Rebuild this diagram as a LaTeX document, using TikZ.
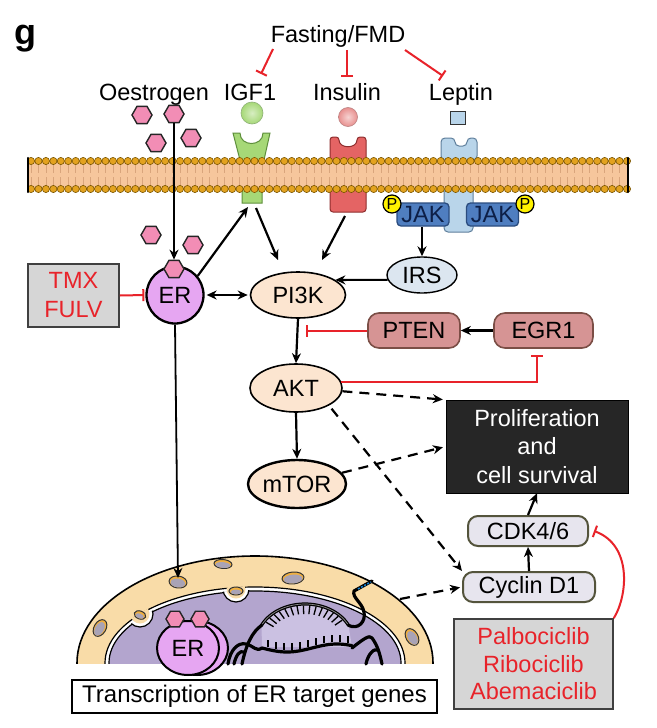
\documentclass[tikz,border=0pt]{standalone}
\usepackage{fontspec}
\setmainfont{Liberation Sans}
\usetikzlibrary{arrows.meta,shapes.geometric}
\definecolor{inhred}{HTML}{E8232A}
\definecolor{hexpink}{HTML}{F28DB5}
\definecolor{igfgreen}{HTML}{A6D877}
\definecolor{igfdark}{HTML}{5E8F3C}
\definecolor{insred}{HTML}{E46464}
\definecolor{insdark}{HTML}{8E2E2E}
\definecolor{insball}{HTML}{E8908F}
\definecolor{lepblue}{HTML}{B9D5EA}
\definecolor{lepdark}{HTML}{5F7F9C}
\definecolor{jakblue}{HTML}{4F7EC0}
\definecolor{jakdark}{HTML}{2B4C7E}
\definecolor{jaktext}{HTML}{0D1F47}
\definecolor{memfill}{HTML}{F6C69C}
\definecolor{memtail}{HTML}{D9A57C}
\definecolor{memhead}{HTML}{E3A21F}
\definecolor{memheaddark}{HTML}{7A5500}
\definecolor{erviolet}{HTML}{E6A6F2}
\definecolor{peach}{HTML}{FCE5D0}
\definecolor{irsblue}{HTML}{DCE6F0}
\definecolor{ptenrose}{HTML}{D69494}
\definecolor{ptendark}{HTML}{7B4E46}
\definecolor{cdkfill}{HTML}{E7E5EE}
\definecolor{cdkdark}{HTML}{54543C}
\definecolor{boxgrey}{HTML}{D6D6D6}
\definecolor{prolifblack}{HTML}{262626}
\definecolor{nucband}{HTML}{F9DCA8}
\definecolor{nucpurple}{HTML}{B3A5CE}
\definecolor{nuclight}{HTML}{CBC1E2}
\definecolor{poregrey}{HTML}{A9A3B6}
\definecolor{poreorange}{HTML}{F0B040}
\begin{document}
\begin{tikzpicture}[x=1pt,y=-1pt,
  font=\fontsize{23.5}{28}\selectfont,
  arr/.style={-{Stealth[length=10pt,width=9pt]}, line width=2.2pt},
  thinarr/.style={-{Stealth[length=10pt,width=9pt]}, line width=1.8pt},
  dbl/.style={{Stealth[length=10pt,width=9pt]}-{Stealth[length=10pt,width=9pt]}, line width=2.2pt},
  dsh/.style={arr, dash pattern=on 10pt off 7pt},
  inh/.style={-{Bar[width=12pt]}, line width=2pt, draw=inhred},
  hexa/.style={regular polygon, regular polygon sides=6, minimum size=20pt, inner sep=0pt, draw=black!85, line width=1.4pt, fill=hexpink},
  oval/.style={ellipse, draw=black, line width=1.6pt, fill=peach, inner sep=0pt},
  pill/.style={rectangle, rounded corners=11pt, draw=ptendark, line width=1.6pt, fill=ptenrose, inner sep=0pt, minimum height=35pt},
  cellbox/.style={rectangle, rounded corners=10pt, draw=cdkdark, line width=2pt, fill=cdkfill, inner sep=0pt, minimum height=30pt},
  drug/.style={rectangle, draw=black!75, line width=1.6pt, fill=boxgrey, text=inhred, align=center, inner sep=0pt},
  jak/.style={rectangle, rounded corners=4pt, draw=jakdark, line width=1.3pt, fill=jakblue, text=jaktext, inner sep=0pt, minimum width=52pt, minimum height=23pt},
  pc/.style={circle, draw=black, line width=1.2pt, fill=yellow, inner sep=0pt, minimum size=18pt, font=\fontsize{16}{16}\selectfont},
  lbl/.style={anchor=base, inner sep=0pt},
  dna/.style={line width=3.2pt, draw=black, line cap=round, line join=round},
  tick/.style={line width=1.3pt, draw=black},
  pore/.style={line width=1pt, draw=black!80, fill=poregrey},
]
\useasboundingbox (0,0) rectangle (656,728);
\fill[white] (0,0) rectangle (656,728);

% ---------- title and labels
\node[anchor=base west, inner sep=0pt, font=\fontsize{36}{36}\selectfont\bfseries] (g) at (14,44) {g};
\node[lbl] (fast) at (338,42) {Fasting/FMD};
\node[lbl] (oes) at (154,100) {Oestrogen};
\node[lbl] (igf) at (250,100) {IGF1};
\node[lbl] (ins) at (347,100) {Insulin};
\node[lbl] (lep) at (461,100) {Leptin};

\coordinate (f1a) at (273,49); \coordinate (f1b) at (261,74);
\coordinate (f2a) at (347,50); \coordinate (f2b) at (347,77);
\coordinate (f3a) at (405,50); \coordinate (f3b) at (443,76);
\draw[inh] (f1a) -- (f1b);
\draw[inh] (f2a) -- (f2b);
\draw[inh] (f3a) -- (f3b);

% ---------- ligands
\node[circle, inner sep=0pt, minimum size=22pt, draw=igfdark!70, line width=0.6pt, inner color=igfgreen!45!white, outer color=igfgreen] (ballI) at (252,113) {};
\node[circle, inner sep=0pt, minimum size=19pt, draw=insdark!60, line width=0.6pt, inner color=insball!40!white, outer color=insball] (ballN) at (348,117) {};
\node[rectangle, inner sep=0pt, minimum width=15pt, minimum height=13pt, draw=black!80, line width=1.2pt, fill=lepblue] (lsq) at (458,118) {};

% ---------- receptors
\draw[draw=igfdark, line width=1pt, fill=igfgreen] (233,133) -- (240,160) -- (242,175) -- (242,203) -- (262,203) -- (262,175) -- (264,160) -- (270,133) -- (263,133) .. controls (263,147) and (240,147) .. (240,133) -- cycle;
\draw[draw=insdark, line width=1pt, fill=insred, rounded corners=3pt] (330,137) -- (330,212) -- (366,212) -- (366,137) -- (357,137) .. controls (357,149) and (339,149) .. (339,137) -- cycle;
\draw[draw=lepdark, line width=1pt, fill=lepblue, rounded corners=4pt] (441,138) -- (441,160) -- (444,160) -- (444,232) -- (473,232) -- (473,160) -- (477,160) -- (477,138) -- (467,138) -- (467,146) -- (455,146) -- (455,138) -- cycle;

% ---------- membrane
\fill[memfill] (28,161) rectangle (628,189);
\foreach \i in {0,...,80} {
  \pgfmathsetmacro{\xx}{31+7.45*\i}
  \draw[memtail, line width=0.8pt] (\xx,164.5) -- (\xx,173) (\xx,177) -- (\xx,185.5);
}
\foreach \i in {0,...,80} {
  \pgfmathsetmacro{\xx}{31+7.45*\i}
  \draw[draw=memheaddark, fill=memhead, line width=0.6pt] (\xx,161) circle (3.6) (\xx,189) circle (3.6);
}
\draw[line width=2.2pt, line cap=round] (28,158) -- (28,192) (628,158) -- (628,192);

% ---------- JAK
\node[jak] (jakl) at (423,214.5) {JAK};
\node[jak] (jakr) at (492.5,214.5) {JAK};
\node[pc] (pl) at (392,204) {P};
\node[pc] (pr) at (525,204) {P};

% ---------- oestrogen
\node[hexa] (h1) at (142,115) {};
\node[hexa] (h2) at (174,114) {};
\node[hexa] (h3) at (156,143) {};
\node[hexa] (h4) at (191,138) {};
\node[hexa] (hA) at (151,235) {};
\node[hexa] (hB) at (193,245) {};

% ---------- nucleus
\begin{scope}
 \clip (60,540) rectangle (450,663);
 \draw[line width=1.6pt, fill=nucband] (255,663) ellipse [x radius=178, y radius=107];
 \draw[line width=1.2pt, fill=white] (255,663) ellipse [x radius=150, y radius=76];
 \draw[line width=1.2pt, fill=nucpurple] (255,663) ellipse [x radius=146, y radius=72];
 \begin{scope}
  \clip (255,663) ellipse [x radius=147, y radius=73];
  \foreach \bx/\by in {236/589, 140/614} { \draw[line width=1.2pt, fill=white] (\bx,\by) circle (13); }
 \end{scope}
 \begin{scope}
  \clip (255,663) ellipse [x radius=151, y radius=77];
  \foreach \bx/\by in {236/589, 140/614} { \fill[nucband] (\bx,\by) circle (9.5); }
 \end{scope}
 \foreach \px/\py/\rx/\ry/\rot in {178/582/9/6/-8, 223/564/9/4.5/-5, 293/578/11/6/5, 100/628/6/9/-30, 412/637/6/9/30, 236/591/7/4/0, 140/615/6/4/-20} {
   \draw[pore, fill=poreorange, rotate around={\rot:(\px,\py)}] (\px,\py) ellipse [x radius=\rx, y radius=\ry];
   \fill[poregrey, rotate around={\rot:(\px,\py)}] ({\px},{\py+1}) ellipse [x radius=\rx-1.6, y radius=\ry-1.6];
 }
 \fill[nuclight] plot[domain=155:25, samples=30] ({305+48*cos(\x)},{641-37*sin(\x)}) -- (352,647) -- (262,647) -- cycle;
\end{scope}

% DNA
\draw[dna] plot[domain=155:25, samples=40] ({305+48*cos(\x)},{641-37*sin(\x)});
\draw[black!45, line width=0.7pt] plot[domain=153:27, samples=40] ({305+48*cos(\x)},{641-37*sin(\x)});
\foreach \a in {148,140,...,36} \draw[tick] ({305+46*cos(\a)},{641-35.5*sin(\a)}) -- ({305+37*cos(\a)},{641-27*sin(\a)});
\draw[dna] plot[domain=262:352, samples=40] ({\x},{648+4*sin((\x-262)*3.6)});
\foreach \xx in {268,276,...,348} \draw[tick] (\xx,{646+4*sin((\xx-262)*3.6)}) -- ++(0,-7);
\draw[dna] ({305+48*cos(155)},{641-37*sin(155)}) .. controls (252,632) and (246,645) .. (242,664);
\draw[dna] (228,664) .. controls (230,650) and (238,642) .. (246,644) .. controls (254,646) and (256,652) .. (262,648);
\draw[dna] (234,664) .. controls (236,655) and (240,650) .. (244,652);
\draw[dna] ({305+48*cos(25)},{641-37*sin(25)}) .. controls (358,630) and (366,622) .. (364,612) .. controls (362,602) and (352,598) .. (354,591) -- (372,581);
\draw[dna] (352,648) .. controls (362,640) and (370,634) .. (372,638) .. controls (378,646) and (380,655) .. (382,664);
\draw[dna] (366,664) .. controls (368,654) and (374,648) .. (378,650);
\draw[cyan!60!blue, line width=1.6pt, dash pattern=on 2pt off 1.5pt] (358,589) -- (371,582);

% ER in nucleus
\draw[line width=2pt, fill=erviolet] (197,648) ellipse [x radius=31, y radius=27];
\node[ellipse, draw=black, line width=2pt, fill=erviolet, minimum width=62pt, minimum height=54pt, inner sep=0pt] (ern) at (188,648) {ER};
\node[hexa, minimum size=18pt] (hn1) at (175,619) {};
\node[hexa, minimum size=18pt] (hn2) at (200,619) {};

% ---------- main nodes
\node[circle, draw=black, line width=2.3pt, fill=erviolet, minimum size=57pt, inner sep=0pt] (er) at (175,295) {ER};
\node[hexa] (hE) at (174,269) {};
\node[drug, minimum width=91pt, minimum height=63pt, font=\fontsize{23.5}{29}\selectfont] (tmx) at (73.5,295.5) {TMX\\FULV};
\node[oval, minimum width=95pt, minimum height=46pt] (pi3k) at (298,295) {PI3K};
\node[ellipse, draw=black, line width=1.4pt, fill=irsblue, minimum width=70pt, minimum height=36pt, inner sep=0pt] (irs) at (422,275) {IRS};
\node[pill, minimum width=92pt] (pten) at (414,330.5) {PTEN};
\node[pill, minimum width=99pt] (egr) at (543.5,330.5) {EGR1};
\node[oval, minimum width=92pt, minimum height=48pt] (akt) at (296,388) {AKT};
\node[oval, line width=2.4pt, minimum width=98pt, minimum height=48pt] (mtor) at (297,484) {mTOR};
\node[rectangle, fill=prolifblack, draw=black, text=white, align=center, minimum width=182pt, minimum height=93pt, inner sep=0pt, font=\fontsize{23.5}{28.5}\selectfont] (prol) at (537,446.5) {Proliferation\\and\\cell survival};
\node[cellbox, minimum width=120pt] (cdk) at (528,531) {CDK4/6};
\node[cellbox, minimum width=132pt] (cyc) at (529,587) {Cyclin D1};
\node[drug, minimum width=159pt, minimum height=90pt, font=\fontsize{23.5}{27.5}\selectfont] (palbo) at (533.5,664) {Palbociclib\\Ribociclib\\Abemaciclib};
\node[rectangle, draw=black, line width=1.3pt, fill=white, minimum width=365pt, minimum height=33pt, inner sep=0pt, font=\fontsize{24}{24}\selectfont] (trans) at (254.5,696.5) {Transcription of ER target genes};

% ---------- connectors
\coordinate (igfb1) at (248,207);
\coordinate (igfb2) at (256,208);
\coordinate (insb) at (345,216);
\coordinate (pt1) at (278,260);
\coordinate (pt2) at (322,260);
\coordinate (jakb) at (422,227);
\coordinate (pore1) at (178,578);
\coordinate (ptb) at (306,330.5);
\coordinate (egrb) at (537,355);
\coordinate (nucx) at (400,599);
\coordinate (cdkr) at (594,531);

\draw[thinarr] (h2.south) -- (hE.north);
\draw[thinarr] (er.south) -- (pore1);
\draw[arr] (er.40) -- (igfb1);
\draw[arr] (igfb2) -- (pt1);
\draw[arr] (insb) -- (pt2);
\draw[arr] (jakb) -- (irs.north);
\draw[arr] (irs.188) -- (pi3k.22);
\draw[dbl, shorten <=2pt, shorten >=2pt] (er.east) -- (pi3k.west);
\draw[inh, shorten >=1pt] (tmx.east) -- (er.west);
\draw[arr] (pi3k.south) -- (akt.north);
\draw[arr] (egr.west) -- (pten.east);
\draw[inh] (pten.west) -- (ptb);
\draw[inh] (akt.8) -| (egrb);
\draw[arr] (akt.south) -- (mtor.north);
\draw[dsh, shorten >=3pt] (akt.-4) -- (prol.north west);
\draw[dsh, shorten <=4pt] (akt.-28) -- (cyc.north west);
\draw[dsh, shorten >=3pt] (mtor.14) -- (prol.west);
\draw[dsh, shorten >=2pt] (nucx) -- (cyc.west);
\draw[arr] (cyc.north) -- (cdk.south);
\draw[arr] (cdk.north) -- (prol.south);
\draw[inh] (palbo.north east) .. controls (628,595) and (632,545) .. (cdkr);
\end{tikzpicture}
\end{document}
